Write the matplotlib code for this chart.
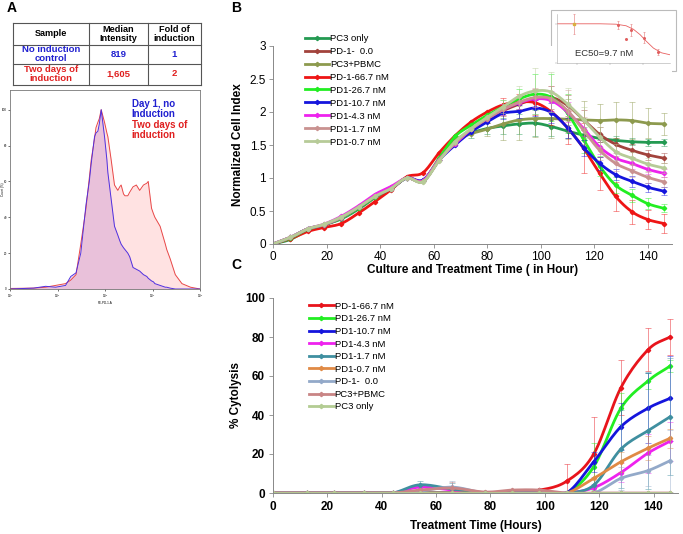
import numpy as np
import matplotlib
matplotlib.use("Agg")
import matplotlib.pyplot as plt
from matplotlib.patches import Rectangle

plt.rcParams['font.family'] = ['Liberation Sans', 'DejaVu Sans']

W, H = 683, 534

# ---- panel A: table ----
table_header = ["Sample", "Median\nIntensity", "Fold of\ninduction"]
table_rows = [["No induction\ncontrol", "819", "1"],
              ["Two days of\ninduction", "1,605", "2"]]
row_colors = ["#2020d0", "#e02020"]

# ---- panel A: flow histogram (log10 intensity, % count) ----
hist_log = [1.0, 1.5, 1.75, 1.96, 2.17, 2.28, 2.39, 2.49, 2.6, 2.67, 2.71, 2.78, 2.81,
            2.85, 2.88, 2.92, 2.99, 3.04, 3.06, 3.13, 3.2, 3.27, 3.31, 3.34, 3.39, 3.42,
            3.48, 3.52, 3.59, 3.66, 3.73, 3.81, 3.88, 3.91, 3.98, 4.02, 4.05, 4.16, 4.27,
            4.3, 4.37, 4.48, 4.62, 4.8, 5.0]
hist_day1 = [0, 0.5, 1.5, 1, 2, 7, 9, 20, 47, 60, 70, 85, 87, 88, 92, 100, 85, 72, 65,
             50, 35, 30, 27, 25, 23, 22, 20, 18, 12, 11, 10, 8, 7, 6, 4.5, 4, 3, 2, 1,
             1, 0.5, 0, 0, 0, 0]
hist_day2 = [0.3, 0.5, 1, 2, 3, 5, 8, 25, 45, 62, 72, 84, 90, 93, 95, 100, 93, 87, 85,
             72, 58, 55, 57, 58, 53, 52, 52, 54, 57, 58, 55, 58, 59, 60, 45, 42, 40, 35,
             25, 22, 17, 8, 3, 1, 0]

# ---- panel B: normalized cell index ----
t_b = [0, 6.5, 13, 19, 25.5, 32, 38, 44, 50, 56, 62, 68, 74, 80, 86, 92, 98, 104,
       110, 116, 122, 128, 134, 140, 146]
b_labels = ["PC3 only", "PD-1-  0.0", "PC3+PBMC", "PD-1-66.7 nM", "PD1-26.7 nM",
            "PD1-10.7 nM", "PD1-4.3 nM", "PD1-1.7 nM", "PD1-0.7 nM"]
b_colors = ["#249a52", "#a2433c", "#8d9a4e", "#ee1515", "#22ee22", "#1515dd",
            "#ee22ee", "#c99290", "#b7cb98"]
b_values = [
    [0, 0.07, 0.21, 0.29, 0.38, 0.53, 0.70, 0.83, 1.0, 0.95, 1.27, 1.57, 1.68, 1.75,
     1.79, 1.82, 1.83, 1.78, 1.71, 1.65, 1.60, 1.57, 1.55, 1.54, 1.54],
    [0, 0.10, 0.23, 0.29, 0.40, 0.55, 0.71, 0.84, 1.0, 0.95, 1.27, 1.55, 1.72, 1.88,
     2.02, 2.12, 2.20, 2.22, 2.10, 1.88, 1.66, 1.51, 1.42, 1.35, 1.30],
    [0, 0.09, 0.22, 0.29, 0.39, 0.55, 0.71, 0.84, 1.0, 0.95, 1.27, 1.56, 1.67, 1.74,
     1.82, 1.88, 1.90, 1.90, 1.89, 1.88, 1.87, 1.88, 1.87, 1.83, 1.82],
    [0, 0.08, 0.19, 0.25, 0.31, 0.47, 0.64, 0.82, 1.02, 1.08, 1.38, 1.64, 1.85, 2.00,
     2.11, 2.15, 2.14, 2.00, 1.76, 1.45, 1.07, 0.72, 0.49, 0.37, 0.31],
    [0, 0.09, 0.22, 0.29, 0.39, 0.55, 0.71, 0.84, 1.0, 0.96, 1.30, 1.63, 1.80, 1.95,
     2.08, 2.20, 2.27, 2.22, 1.98, 1.58, 1.18, 0.89, 0.74, 0.61, 0.54],
    [0, 0.10, 0.23, 0.29, 0.40, 0.56, 0.72, 0.84, 1.0, 0.97, 1.27, 1.50, 1.70, 1.85,
     1.98, 2.01, 2.06, 1.99, 1.76, 1.46, 1.22, 1.05, 0.95, 0.86, 0.80],
    [0, 0.10, 0.23, 0.30, 0.42, 0.58, 0.75, 0.87, 1.0, 0.96, 1.28, 1.52, 1.74, 1.90,
     2.04, 2.14, 2.20, 2.17, 2.00, 1.75, 1.47, 1.30, 1.22, 1.13, 1.07],
    [0, 0.10, 0.23, 0.29, 0.40, 0.56, 0.72, 0.84, 1.0, 0.95, 1.27, 1.53, 1.74, 1.90,
     2.04, 2.15, 2.22, 2.20, 2.02, 1.72, 1.42, 1.22, 1.11, 1.01, 0.94],
    [0, 0.10, 0.23, 0.30, 0.41, 0.56, 0.72, 0.84, 1.0, 0.94, 1.26, 1.55, 1.75, 1.92,
     2.08, 2.24, 2.32, 2.30, 2.12, 1.88, 1.62, 1.40, 1.30, 1.21, 1.15],
]
b_errors = [
    [0]*12 + [0.08, 0.08, 0.12, 0.15, 0.2, 0.15, 0.1, 0.08, 0.06, 0.06, 0.05, 0.05, 0.05],
    [0]*13 + [0.05, 0.08, 0.1, 0.15, 0.18, 0.16, 0.15, 0.12, 0.1, 0.1, 0.08, 0.08],
    [0]*13 + [0.1, 0.25, 0.3, 0.28, 0.3, 0.3, 0.28, 0.25, 0.27, 0.28, 0.23, 0.17],
    [0]*14 + [0.1, 0.12, 0.18, 0.2, 0.25, 0.38, 0.25, 0.22, 0.18, 0.15, 0.14],
    [0]*14 + [0.1, 0.15, 0.3, 0.35, 0.3, 0.2, 0.15, 0.12, 0.1, 0.08, 0.06],
    [0]*14 + [0.08, 0.1, 0.12, 0.15, 0.15, 0.12, 0.1, 0.08, 0.08, 0.07, 0.06],
    [0]*14 + [0.08, 0.1, 0.12, 0.15, 0.15, 0.12, 0.1, 0.08, 0.08, 0.07, 0.06],
    [0]*14 + [0.08, 0.1, 0.15, 0.2, 0.32, 0.2, 0.15, 0.12, 0.1, 0.08, 0.08],
    [0]*14 + [0.1, 0.15, 0.35, 0.3, 0.25, 0.2, 0.15, 0.12, 0.1, 0.1, 0.08],
]

# ---- panel B inset: dose response ----
ec_dose = [0.08, 1.7, 3.0, 4.3, 10.7, 26.7]
ec_resp = [100, 97, 60, 85, 65, 28]
ec_err = [25, 10, 0, 15, 15, 8]
ec_curve_dose = [0.025, 0.1, 0.5, 1.5, 3.0, 5.0, 8.0, 12.0, 20.0, 35.0, 63.0]
ec_curve_resp = [100, 100, 100, 99, 95, 86, 72, 56, 38, 26, 21]

# ---- panel C: % cytolysis ----
t_c = [0, 12.5, 22.5, 33.5, 44, 54, 66, 78, 88, 98, 108, 118, 128, 138, 146]
c_labels = ["PD-1-66.7 nM", "PD1-26.7 nM", "PD1-10.7 nM", "PD1-4.3 nM", "PD1-1.7 nM",
            "PD1-0.7 nM", "PD-1-  0.0", "PC3+PBMC", "PC3 only"]
c_colors = ["#e8141c", "#22ee22", "#1515dd", "#ee22ee", "#3f8fa0", "#e08a45",
            "#93a9c9", "#c98585", "#b3cc93"]
c_values = [
    [0, 0, 0, 0, 0, 0, 0, 0, 1.0, 1.5, 6, 20, 54, 73.5, 80],
    [0, 0, 0, 0, 0, 0, 0, 0, 0, 0, 0, 13.5, 43.5, 57.5, 65],
    [0, 0, 0, 0, 0, 0, 0, 0, 0, 0, 0, 16, 34, 43.5, 48.5],
    [0, 0, 0, 0, 0, 3, 1.5, 0, 0, 0, 0, 2.7, 10.5, 20.5, 26.5],
    [0, 0, 0, 0, 0, 4.2, 2, 0, 0, 0, 0, 4, 22.5, 32, 39],
    [0, 0, 0, 0, 0, 0, 0, 0, 0, 0, 0, 7.5, 16, 23, 28],
    [0, 0, 0, 0, 0, 1, 3, 0, 0, 0, 0, 0, 7.5, 11.5, 16.5],
    [0, 0, 0, 0, 0, 1.5, 2.5, 0.5, 1.5, 1.5, 0, 0, 0, 0, 0],
    [0]*15,
]
c_errors = [
    [0]*10 + [9, 19, 14, 11, 9],
    [0]*11 + [12, 8, 4, 3],
    [0]*11 + [5, 12, 18, 22],
    [0]*5 + [1, 0, 0, 0, 0, 0, 2, 5, 10, 10],
    [0]*5 + [2, 3, 0, 0, 0, 0, 4, 20, 30, 30],
    [0]*12 + [5, 6, 5],
    [0]*6 + [3, 0, 0, 0, 0, 0, 6, 8, 16],
    [0]*6 + [3, 0, 0, 0, 0, 0, 0, 0, 0],
    [0]*15,
]


def smooth(x, y, n=12):
    # Excel-like smoothed line (uniform Catmull-Rom)
    x = np.asarray(x, float)
    y = np.asarray(y, float)
    px = np.concatenate([[2*x[0]-x[1]], x, [2*x[-1]-x[-2]]])
    py = np.concatenate([[2*y[0]-y[1]], y, [2*y[-1]-y[-2]]])
    t = np.linspace(0, 1, n, endpoint=False)
    xs, ys = [], []
    for i in range(1, len(px)-2):
        for arr, out in ((px, xs), (py, ys)):
            p0, p1, p2, p3 = arr[i-1], arr[i], arr[i+1], arr[i+2]
            out.append(0.5*(2*p1 + (-p0+p2)*t + (2*p0-5*p1+4*p2-p3)*t**2
                            + (-p0+3*p1-3*p2+p3)*t**3))
    xs.append([x[-1]])
    ys.append([y[-1]])
    return np.concatenate(xs), np.concatenate(ys)


def box(l, t, r, b):
    return [l/W, 1-b/H, (r-l)/W, (b-t)/H]


fig = plt.figure(figsize=(W/100, H/100), dpi=100)

# overlay for table, labels, inset frame
ov = fig.add_axes([0, 0, 1, 1])
ov.set_xlim(0, W)
ov.set_ylim(H, 0)
ov.axis('off')

for s, (x, y) in zip("ABC", [(12, 8), (236, 8), (236, 265)]):
    ov.text(x, y, s, fontsize=10, fontweight='bold', ha='center', va='center')

col_x = [12.5, 89, 148, 201]
row_y = [22.5, 45, 63.5, 84.5]
for xx in col_x:
    ov.plot([xx, xx], [row_y[0], row_y[-1]], color='#555555', lw=0.8)
for yy in row_y:
    ov.plot([col_x[0], col_x[-1]], [yy, yy], color='#555555', lw=0.8)
for j, txt in enumerate(table_header):
    ov.text((col_x[j]+col_x[j+1])/2, (row_y[0]+row_y[1])/2, txt, fontsize=6.6,
            ha='center', va='center', linespacing=1.0, fontweight='semibold')
for i, row in enumerate(table_rows):
    for j, txt in enumerate(row):
        ov.text((col_x[j]+col_x[j+1])/2, (row_y[i+1]+row_y[i+2])/2, txt, fontsize=6.8,
                ha='center', va='center', color=row_colors[i], fontweight='bold',
                linespacing=1.0)

ov.add_patch(Rectangle((551, 10), 125, 61, fill=False, edgecolor='#bbbbbb', lw=0.8))

# histogram
ah = fig.add_axes(box(10, 90, 200, 289))
hx = 10 ** np.asarray(hist_log)
ah.fill_between(hx, hist_day2, color='#ffd6d6', alpha=0.7, lw=0)
ah.fill_between(hx, hist_day1, color='#c890d0', alpha=0.4, lw=0)
ah.plot(hx, hist_day2, color='#e84848', lw=0.7)
ah.plot(hx, hist_day1, color='#5030e0', lw=0.7)
ah.set_xscale('log')
ah.set_xlim(10, 1e5)
ah.set_ylim(0, 111)
ah.set_yticks([0, 20, 40, 60, 80, 100])
ah.minorticks_off()
ah.tick_params(labelsize=2.2, length=1.5, width=0.4, pad=0.8)
for sp in ah.spines.values():
    sp.set_color('#777777')
    sp.set_linewidth(0.6)
ah.set_ylabel("Count (%)", fontsize=2.2)
ah.yaxis.set_label_coords(-0.028, 0.5)
ah.set_xlabel("PE-PD-1-A", fontsize=2.2, labelpad=1)
ah.text(0.64, 0.955, "Day 1, no\nInduction", transform=ah.transAxes, color='#2020d0',
        fontsize=7, fontweight='bold', va='top', linespacing=1.0)
ah.text(0.64, 0.85, "Two days of\ninduction", transform=ah.transAxes, color='#e02020',
        fontsize=7, fontweight='bold', va='top', linespacing=1.0)

# panel B
ab = fig.add_axes(box(273, 46, 672, 244))
for vals, errs, col, lab in zip(b_values, b_errors, b_colors, b_labels):
    e = np.asarray(errs)
    m = e > 0
    ab.errorbar(np.asarray(t_b)[m], np.asarray(vals)[m], yerr=e[m], fmt='none',
                ecolor=col, elinewidth=0.7, capsize=2, capthick=0.7, alpha=0.45)
    sx, sy = smooth(t_b, vals)
    ab.plot(sx, sy, color=col, lw=2)
    ab.plot(t_b, vals, ls='none', marker='D', ms=2.2, color=col)
    ab.plot([], [], color=col, lw=2, marker='D', ms=2.2, label=lab)
ab.set_xlim(0, 149)
ab.set_ylim(0, 3)
ab.set_xticks(range(0, 141, 20))
ab.set_yticks([0, 0.5, 1, 1.5, 2, 2.5, 3])
ab.set_yticklabels(["0", "0.5", "1", "1.5", "2", "2.5", "3"])
ab.tick_params(labelsize=8.5, length=3, width=0.6, color='#888888', pad=2)
for sp in ['top', 'right']:
    ab.spines[sp].set_visible(False)
for sp in ['left', 'bottom']:
    ab.spines[sp].set_color('#888888')
    ab.spines[sp].set_linewidth(0.7)
ab.set_xlabel("Culture and Treatment Time ( in Hour)", fontsize=8.5, fontweight='bold',
              labelpad=1)
ab.set_ylabel("Normalized Cell Index", fontsize=8.5, fontweight='bold', labelpad=4)
ab.legend(loc='upper left', bbox_to_anchor=(0.07, 1.08), frameon=False, fontsize=6.8,
          handlelength=2.6, handletextpad=0.1, labelspacing=0.42, borderaxespad=0)

# inset
ai = fig.add_axes(box(557, 14, 670, 63))
ai.errorbar(ec_dose, ec_resp, yerr=ec_err, fmt='none', ecolor='#e89090', elinewidth=0.5,
            capsize=1, capthick=0.5)
ai.plot(ec_curve_dose, ec_curve_resp, color='#e86060', lw=0.6)
ai.plot(ec_dose, ec_resp, ls='none', marker='o', ms=1.2, color='#e06060')
ai.plot(ec_dose[:1], ec_resp[:1], ls='none', marker='s', ms=1.8, color='#d8b040')
ai.set_xscale('log')
ai.set_xlim(0.025, 63)
ai.set_ylim(0, 125)
ai.minorticks_off()
ai.tick_params(labelbottom=False, labelleft=False, length=1.2, width=0.3, color='#999999')
for sp in ['top', 'right']:
    ai.spines[sp].set_visible(False)
for sp in ['left', 'bottom']:
    ai.spines[sp].set_color('#aaaaaa')
    ai.spines[sp].set_linewidth(0.4)
ai.patch.set_alpha(0)
ai.text(0.42, 0.2, "EC50=9.7 nM", transform=ai.transAxes, fontsize=6.8, ha='center',
        va='center', color='#333333')

# panel C
ac = fig.add_axes(box(273, 298, 678, 493))
for vals, errs, col, lab in zip(c_values, c_errors, c_colors, c_labels):
    e = np.asarray(errs)
    m = e > 0
    if m.any():
        ac.errorbar(np.asarray(t_c)[m], np.asarray(vals)[m], yerr=e[m], fmt='none',
                    ecolor=col, elinewidth=0.7, capsize=2, capthick=0.7, alpha=0.45)
    sx, sy = smooth(t_c, vals)
    ac.plot(sx, sy, color=col, lw=2)
    ac.plot(t_c, vals, ls='none', marker='D', ms=2.2, color=col)
    ac.plot([], [], color=col, lw=2, marker='D', ms=2.2, label=lab)
ac.set_xlim(0, 149)
ac.set_ylim(0, 100)
ac.set_xticks(range(0, 141, 20))
ac.set_yticks(range(0, 101, 20))
ac.tick_params(labelsize=8.5, length=3, width=0.6, color='#888888', pad=3)
for lbl in ac.get_xticklabels() + ac.get_yticklabels():
    lbl.set_fontweight('bold')
for sp in ['top', 'right']:
    ac.spines[sp].set_visible(False)
for sp in ['left', 'bottom']:
    ac.spines[sp].set_color('#888888')
    ac.spines[sp].set_linewidth(0.7)
ac.set_xlabel("Treatment Time (Hours)", fontsize=8.5, fontweight='bold', labelpad=5)
ac.set_ylabel("% Cytolysis", fontsize=8.5, fontweight='bold', labelpad=2)
ac.legend(loc='upper left', bbox_to_anchor=(0.08, 1.0), frameon=False, fontsize=6.8,
          handlelength=2.6, handletextpad=0.1, labelspacing=0.38, borderaxespad=0)

fig.savefig("out.png", dpi=100)
